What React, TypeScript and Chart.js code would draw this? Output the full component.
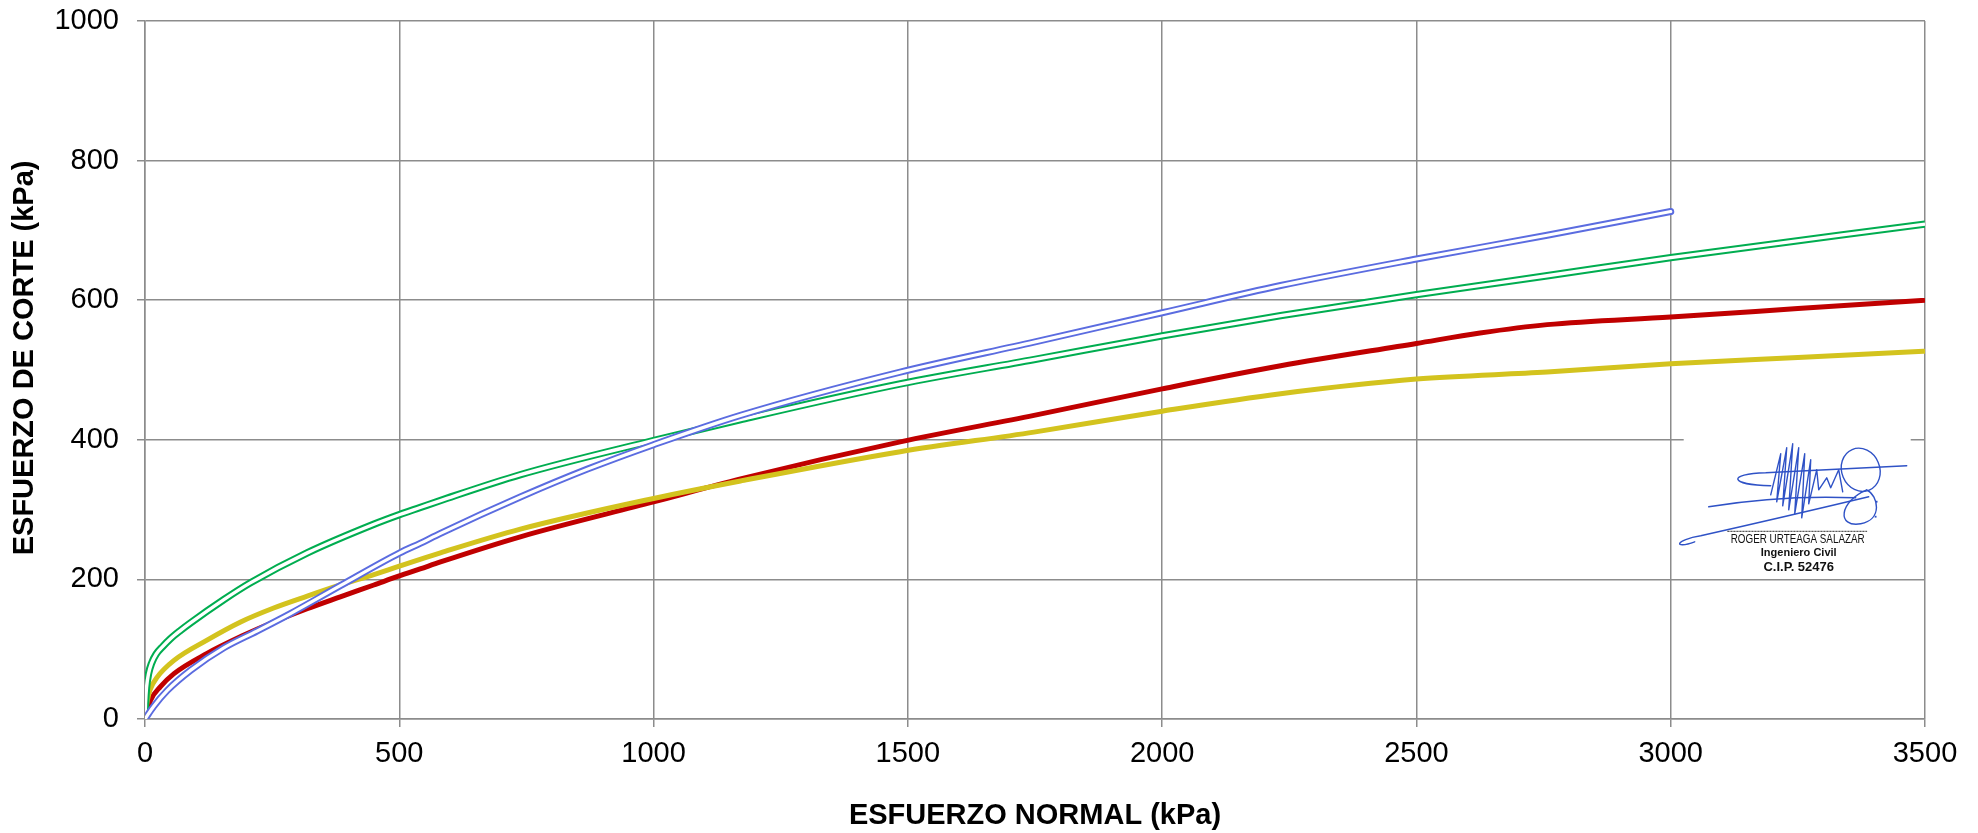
import React, { useEffect, useRef } from "react";
import { Chart, registerables } from "chart.js";

Chart.register(...registerables);

// ---- data (kPa) ----
const RED_X = [0, 2, 5, 11, 30, 57, 122, 188, 253, 319, 384, 450, 500, 541, 581, 738, 1000, 1171, 1485, 1748, 2000, 2233, 2500, 2625, 2757, 3000, 3250, 3500];
const RED_Y = [0, 6, 13, 27, 46, 65, 94, 118, 139, 158, 175, 192, 205, 215, 225, 261, 311, 344, 397, 435, 473, 506, 538, 553, 565, 576, 588, 600];

const YELLOW_X = [0, 2, 5, 10, 24, 57, 122, 188, 253, 319, 384, 450, 500, 581, 738, 1000, 1171, 1485, 1748, 2000, 2233, 2500, 2757, 3000, 3250, 3500];
const YELLOW_Y = [0, 15, 28, 42, 60, 84, 113, 139, 159, 176, 192, 207, 219, 238, 272, 316, 341, 383, 411, 441, 466, 487, 497, 509, 518, 527];

const GREEN_X = [0, 1, 3, 7, 13, 22, 35, 50, 70, 90, 155, 207, 319, 450, 501, 541, 581, 738, 1000, 1171, 1485, 1748, 2000, 2233, 2500, 2757, 3000, 3500];
const GREEN_Y = [0, 22, 45, 65, 80, 93, 104, 115, 127, 138, 171, 195, 238, 279, 293, 303, 313, 350, 399, 429, 480, 515, 549, 578, 608, 635, 661, 709];

const BLUE_X = [0, 17, 44, 90, 155, 220, 286, 384, 501, 542, 581, 738, 870, 1000, 1171, 1485, 1748, 2000, 2233, 2500, 2757, 3000];
const BLUE_Y = [0, 18, 41, 70, 102, 126, 151, 191, 238, 252, 266, 318, 358, 393, 435, 497, 540, 582, 621, 659, 693, 727];

const X_TICKS = [0, 500, 1000, 1500, 2000, 2500, 3000, 3500];
const Y_TICKS = [0, 200, 400, 600, 800, 1000];

const X_TITLE = "ESFUERZO NORMAL (kPa)";
const Y_TITLE = "   ESFUERZO DE CORTE (kPa)";

const SIGN_NAME = "ROGER URTEAGA SALAZAR";
const SIGN_ROLE = "Ingeniero Civil";
const SIGN_CIP = "C.I.P. 52476";

const pts = (xs: number[], ys: number[]) => xs.map((x, i) => ({ x, y: ys[i] }));

const GRID = "#8c8c8c";
const FONT = "'Liberation Sans', Arial, sans-serif";

const signaturePlugin = {
  id: "signature",
  afterDraw(chart: any) {
    const { ctx, scales } = chart;
    const x0 = scales.x.getPixelForValue(3000);
    const y0 = scales.y.getPixelForValue(400);
    const P = (dx: number, dy: number): [number, number] => [x0 + dx, y0 + dy];
    ctx.save();
    ctx.fillStyle = "#ffffff";
    ctx.fillRect(x0 + 13, y0 - 1.5, 227, 137);

    ctx.strokeStyle = "#2f52c6";
    ctx.lineWidth = 1.4;
    ctx.lineCap = "round";
    ctx.lineJoin = "round";

    // long sweep lower-left
    ctx.beginPath();
    ctx.moveTo(...P(24, 102));
    ctx.bezierCurveTo(...P(2, 110), ...P(4, 100), ...P(30, 96));
    ctx.quadraticCurveTo(...P(110, 78), ...P(198, 57));
    ctx.stroke();

    // middle stroke
    ctx.beginPath();
    ctx.moveTo(...P(38, 67));
    ctx.quadraticCurveTo(...P(110, 55), ...P(185, 58));
    ctx.stroke();

    // top horizontal stroke with loop
    ctx.beginPath();
    ctx.moveTo(...P(100, 46));
    ctx.bezierCurveTo(...P(58, 45), ...P(56, 34), ...P(95, 33));
    ctx.lineTo(...P(236, 26));
    ctx.stroke();

    // zigzag strokes
    const zig: [number, number][] = [
      [100, 55], [110, 14], [106, 62], [116, 8], [112, 66], [122, 4], [118, 70], [128, 8],
      [124, 74], [134, 14], [131, 78], [140, 20], [138, 64], [146, 30], [148, 50], [156, 38],
      [160, 48], [168, 30], [172, 52],
    ];
    ctx.beginPath();
    ctx.moveTo(...P(zig[0][0], zig[0][1]));
    for (let i = 1; i < zig.length; i++) ctx.lineTo(...P(zig[i][0], zig[i][1]));
    ctx.stroke();

    // "8" loop on the right
    ctx.beginPath();
    ctx.ellipse(x0 + 190, y0 + 30, 19, 22, -0.4, 0, Math.PI * 2);
    ctx.stroke();
    ctx.beginPath();
    ctx.moveTo(...P(196, 50));
    ctx.bezierCurveTo(...P(168, 62), ...P(166, 88), ...P(190, 84));
    ctx.bezierCurveTo(...P(212, 80), ...P(208, 56), ...P(196, 50));
    ctx.stroke();

    // dotted line
    ctx.setLineDash([1.5, 1.5]);
    ctx.strokeStyle = "#333";
    ctx.lineWidth = 1;
    ctx.beginPath();
    ctx.moveTo(...P(57, 91.5));
    ctx.lineTo(...P(196, 91.5));
    ctx.stroke();
    ctx.setLineDash([]);

    ctx.fillStyle = "#2f52c6";
    ctx.fillRect(x0 + 205, y0 + 61, 1.8, 1.8);
    ctx.fillRect(x0 + 204, y0 + 76, 1.8, 1.8);

    // texts
    ctx.fillStyle = "#111";
    ctx.textAlign = "center";
    ctx.textBaseline = "middle";
    ctx.font = `13px ${FONT}`;
    ctx.fillText(SIGN_NAME, x0 + 127, y0 + 100, 134);
    ctx.font = `bold 11px ${FONT}`;
    ctx.fillText(SIGN_ROLE, x0 + 128, y0 + 113, 76);
    ctx.font = `bold 13px ${FONT}`;
    ctx.fillText(SIGN_CIP, x0 + 128, y0 + 128, 79);
    ctx.restore();
  },
};

export default function App() {
  const ref = useRef<HTMLCanvasElement>(null);

  useEffect(() => {
    if (!ref.current) return;
    const common = { pointRadius: 0, cubicInterpolationMode: "monotone" as const, fill: false };
    const chart = new Chart(ref.current, {
      type: "line",
      data: {
        datasets: [
          { ...common, label: "blue-in", data: pts(BLUE_X, BLUE_Y), borderColor: "#ffffff", borderWidth: 3.2, borderCapStyle: "round", order: 0 },
          { ...common, label: "blue", data: pts(BLUE_X, BLUE_Y), borderColor: "#5b6ce0", borderWidth: 7.0, borderCapStyle: "round", order: 1 },
          { ...common, label: "green-in", data: pts(GREEN_X, GREEN_Y), borderColor: "#ffffff", borderWidth: 3.4, order: 2 },
          { ...common, label: "green", data: pts(GREEN_X, GREEN_Y), borderColor: "#00ad50", borderWidth: 7.4, order: 3 },
          { ...common, label: "yellow", data: pts(YELLOW_X, YELLOW_Y), borderColor: "#d3c31e", borderWidth: 5, order: 4 },
          { ...common, label: "red", data: pts(RED_X, RED_Y), borderColor: "#c00000", borderWidth: 5, order: 5 },
        ] as any,
      },
      options: {
        responsive: false,
        animation: false,
        events: [],
        layout: { padding: { left: 0, right: 53, top: 41, bottom: 0 } },
        plugins: { legend: { display: false }, tooltip: { enabled: false } },
        scales: {
          x: {
            type: "linear",
            min: 0,
            max: 3500,
            afterBuildTicks: (s: any) => { s.ticks = X_TICKS.map((v) => ({ value: v })); },
            afterFit: (s: any) => { s.height = 114; },
            grid: { color: GRID, lineWidth: 1.5, tickLength: 8, tickColor: GRID },
            border: { color: GRID, width: 1.5 },
            ticks: { color: "#000", padding: 10, maxRotation: 0, font: { family: FONT, size: 29 }, callback: (v: any) => String(v) },
            title: { display: true, text: X_TITLE, color: "#000", padding: { top: 0, bottom: 0 }, font: { family: FONT, size: 29, weight: "bold" } },
          },
          y: {
            type: "linear",
            min: 0,
            max: 1000,
            afterBuildTicks: (s: any) => { s.ticks = Y_TICKS.map((v) => ({ value: v })); },
            afterFit: (s: any) => { s.width = 145; },
            grid: { color: GRID, lineWidth: 1.5, tickLength: 8, tickColor: GRID },
            border: { color: GRID, width: 1.5 },
            ticks: { color: "#000", padding: 18, font: { family: FONT, size: 29 }, callback: (v: any) => String(v) },
            title: { display: true, text: Y_TITLE, color: "#000", padding: { top: 8, bottom: 0 }, font: { family: FONT, size: 29, weight: "bold" } },
          },
        },
      } as any,
      plugins: [signaturePlugin],
    });
    return () => chart.destroy();
  }, []);

  return (
    <div style={{ position: "absolute", left: 0, top: -20, width: 1978, height: 853, background: "#fff" }}>
      <canvas ref={ref} width={1978} height={853} style={{ width: 1978, height: 853, display: "block" }} />
    </div>
  );
}
